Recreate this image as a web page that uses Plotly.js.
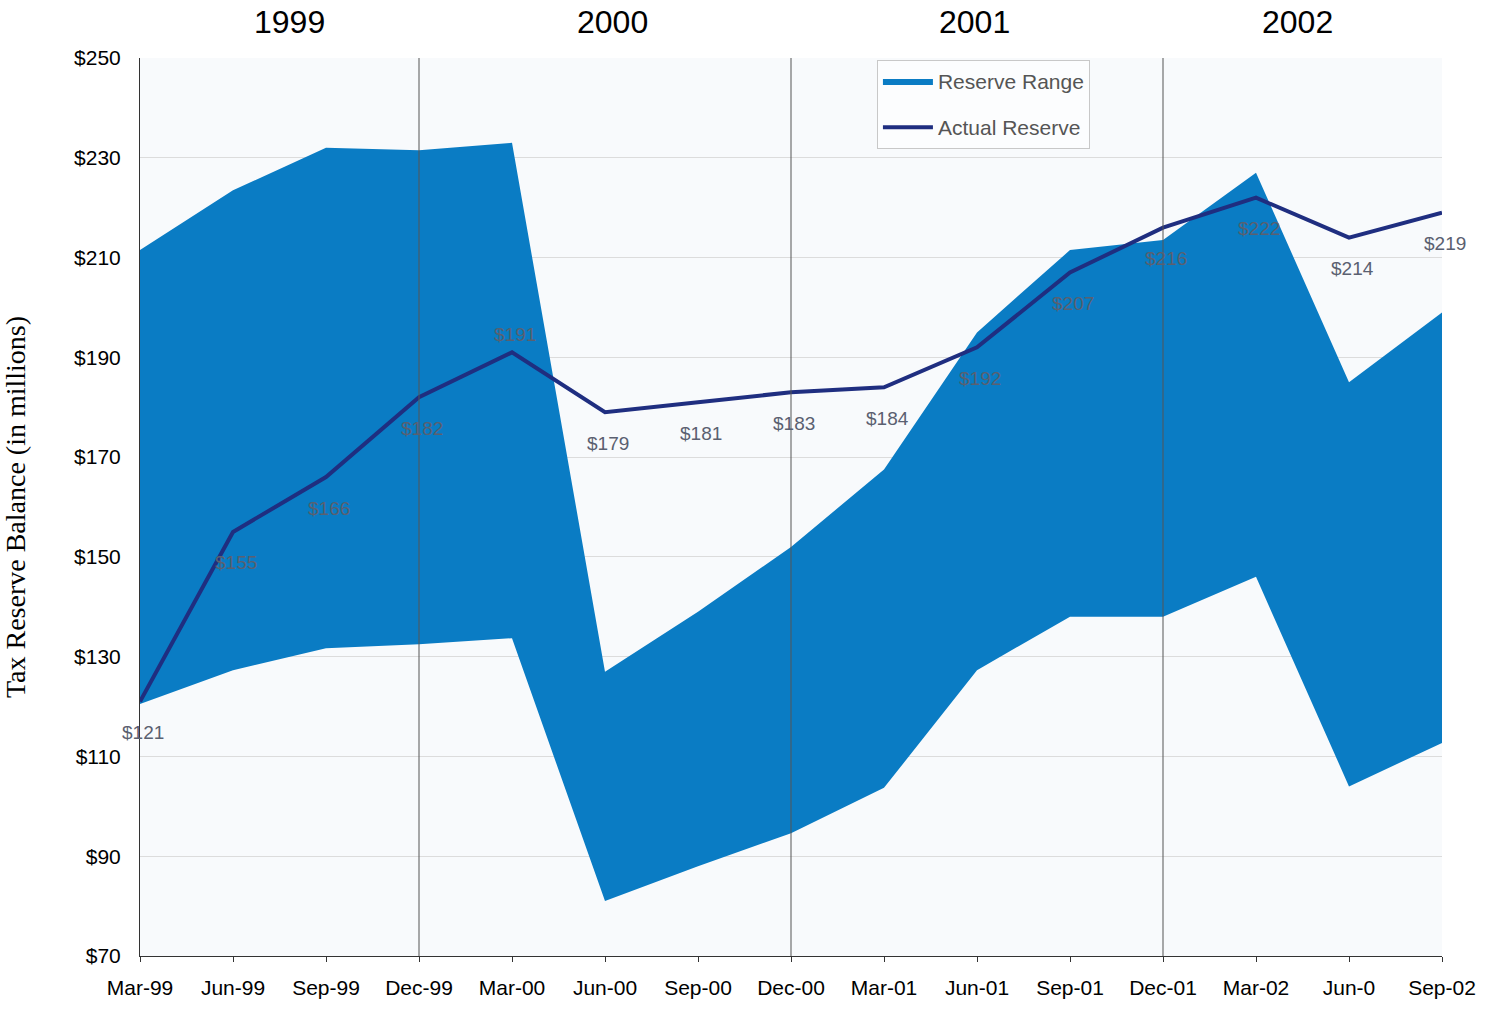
<!DOCTYPE html>
<html>
<head>
<meta charset="utf-8">
<script src="https://cdn.plot.ly/plotly-3.0.1.min.js"></script>
<style>html,body{margin:0;padding:0;background:#fff;}#chart{width:1488px;height:1009px;}</style>
</head>
<body>
<div id="chart"></div>
<script>
const quarters = ["Mar-99","Jun-99","Sep-99","Dec-99","Mar-00","Jun-00","Sep-00","Dec-00","Mar-01","Jun-01","Sep-01","Dec-01","Mar-02","Jun-0","Sep-02"];
const rangeUpper = [211.5,223.5,232,231.5,233,127,139,152,167.5,195,211.5,213.5,227,185,199];
const rangeLower = [120.5,127.3,131.7,132.5,133.7,81,88,94.6,103.7,127.3,138,138,146,104,112.7];
const actualReserve = [121,155,166,182,191,179,181,183,184,192,207,216,222,214,219];
const years = ["1999","2000","2001","2002"];
const yearDividers = ["Dec-99","Dec-00","Dec-01"];
const yTicks = [70,90,110,130,150,170,190,210,230,250];

const xIdx = quarters.map((q,i)=>i);

const traces = [
  {x: xIdx, y: rangeLower, type:'scatter', mode:'lines', line:{width:0, color:'#0a7cc4'}, showlegend:false, hoverinfo:'skip', legendgroup:'a'},
  {x: xIdx, y: rangeUpper, type:'scatter', mode:'lines', fill:'tonexty', fillcolor:'#0a7cc4', line:{width:0, color:'#0a7cc4'}, name:'Reserve Range', legendgroup:'a'},
  {x: xIdx, y: actualReserve, type:'scatter', mode:'lines', line:{width:4, color:'#1f2e80'}, name:'Actual Reserve', legendgroup:'b'}
];

const annotations = actualReserve.map((v,i)=>({
  x: i, y: v, xref:'x', yref:'y', text: '$' + v, showarrow:false,
  xshift: 3, yshift: (v === 191 && i === 4) ? 18 : -31,
  font:{family:'Liberation Sans, Arial, sans-serif', size:19, color:'#5a6070'}
}));
const yearX = [0.115, 0.363, 0.641, 0.889];
years.forEach((y,i)=>annotations.push({
  x: yearX[i], y: 1, xref:'paper', yref:'paper', xanchor:'center', yanchor:'bottom', yshift: 16,
  text: y, showarrow:false, font:{family:'Liberation Sans, Arial, sans-serif', size:32, color:'#000'}
}));

const shapes = yearDividers.map(d=>({
  type:'line', xref:'x', yref:'paper', x0: quarters.indexOf(d), x1: quarters.indexOf(d), y0:0, y1:1,
  line:{color:'#555', width:1}
}));

const layout = {
  width:1488, height:1009,
  margin:{l:140, r:46, t:58, b:53},
  paper_bgcolor:'#ffffff', plot_bgcolor:'#f8fafc',
  showlegend:true,
  legend:{x:0.566, y:0.998, xanchor:'left', yanchor:'top', traceorder:'grouped', bgcolor:'rgba(255,255,255,0.6)', bordercolor:'#c8c8c8', borderwidth:1,
    font:{family:'Liberation Sans, Arial, sans-serif', size:21, color:'#555'}, tracegroupgap:16, itemwidth:50},
  xaxis:{
    range:[0,14], tickmode:'array', tickvals:xIdx, ticktext:quarters,
    showgrid:false, zeroline:false, showline:true, linecolor:'#333', linewidth:1,
    ticks:'outside', ticklen:5, tickcolor:'#333', ticklabelstandoff:8,
    tickfont:{family:'Liberation Sans, Arial, sans-serif', size:21, color:'#000'}
  },
  yaxis:{
    range:[70,250], tickmode:'array', tickvals:yTicks, ticktext:yTicks.map(v=>'$'+v),
    showgrid:true, gridcolor:'#dcdcdc', zeroline:false, showline:true, linecolor:'#333', linewidth:1,
    ticks:'', ticklen:0, ticklabelstandoff:14,
    tickfont:{family:'Liberation Sans, Arial, sans-serif', size:21, color:'#000'},
    title:{text:'Tax Reserve Balance (in millions)', standoff:40, font:{family:'Liberation Serif, Times New Roman, serif', size:28, color:'#000'}}
  },
  annotations: annotations,
  shapes: shapes
};

Plotly.newPlot('chart', traces, layout, {displayModeBar:false, staticPlot:true});
</script>
</body>
</html>
